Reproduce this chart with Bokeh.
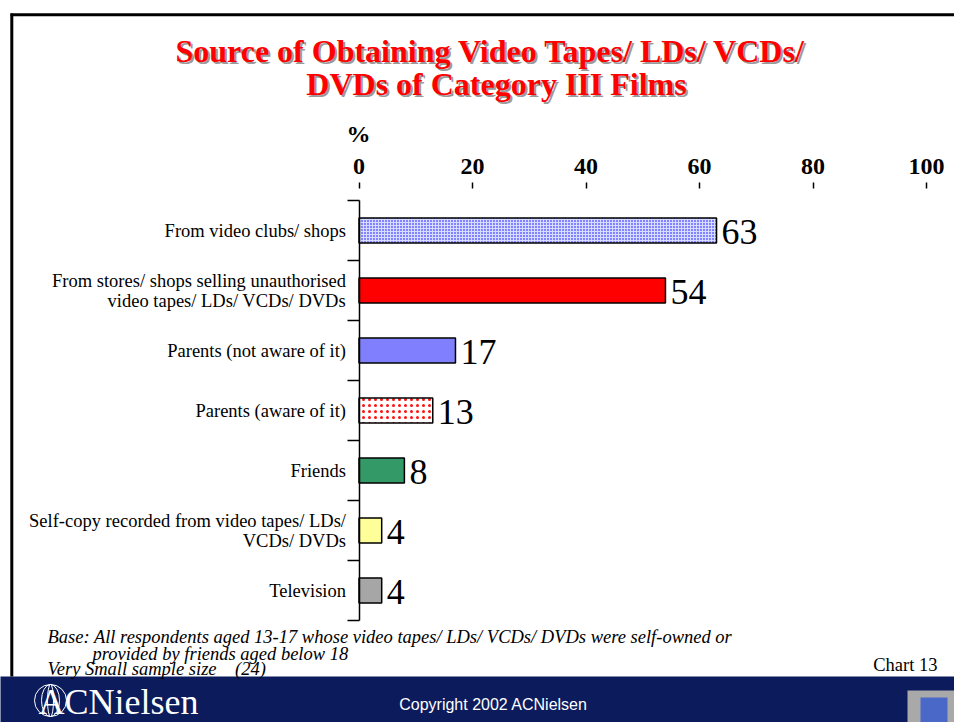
from bokeh.plotting import figure
from bokeh.models import Range1d, LinearAxis, FixedTicker, ColumnDataSource
from bokeh.core.properties import value
from bokeh.embed import file_html
from bokeh.resources import INLINE

# ---------------- data ----------------
categories = [
    "From video clubs/ shops",
    "From stores/ shops selling unauthorised\nvideo tapes/ LDs/ VCDs/ DVDs",
    "Parents (not aware of it)",
    "Parents (aware of it)",
    "Friends",
    "Self-copy recorded from video tapes/ LDs/\nVCDs/ DVDs",
    "Television",
]
values = [63, 54, 17, 13, 8, 4, 4]
x_ticks = [0, 20, 40, 60, 80, 100]

title_lines = ["Source of Obtaining Video Tapes/ LDs/ VCDs/", "DVDs of Category III Films"]
foot_lines = [
    "Base: All respondents aged 13-17 whose video tapes/ LDs/ VCDs/ DVDs were self-owned or",
    "provided by friends aged below 18",
    "Very Small sample size\u00a0\u00a0\u00a0\u00a0(24)",
]

# ---------------- styles ----------------
bar_fill = ["#d8dcff", "#ff0000", "#8080ff", "#ffffff", "#339966", "#ffff99", "#a6a6a6"]
bar_hatch = [".", " ", " ", ".", " ", " ", " "]
hatch_col = ["#0000ff", "#000000", "#000000", "#ff1010", "#000000", "#000000", "#000000"]
hatch_sc = [3.0, 4.0, 4.0, 6.0, 4.0, 4.0, 4.0]
hatch_w = [2.0, 1.0, 1.0, 2.2, 1.0, 1.0, 1.0]

SERIF = "Liberation Serif"
SANS = "Liberation Sans"

W, H = 954, 722
PX = 5.675  # pixels per percent


def sx(X):
    return (X - 358.5) / PX


def sy(Y):
    return (Y - 230.0) / 60.0


p = figure(width=W, height=H, x_range=Range1d(sx(0), sx(W)), y_range=Range1d(sy(H), sy(0)),
           output_backend="svg", toolbar_location=None, min_border=0,
           x_axis_type=None, y_axis_type=None)
p.outline_line_color = None
p.background_fill_color = "white"
p.border_fill_color = "white"

# footer band
p.quad(left=[sx(-10)], right=[sx(970)], top=[sy(676)], bottom=[sy(740)], fill_color="#0b1b5c", line_color=None)

# slide border
p.segment(x0=[sx(10), sx(11.3)], y0=[sy(14.3), sy(13)], x1=[sx(970), sx(11.3)], y1=[sy(14.3), sy(676)],
          line_color="black", line_width=3)

# bars
idx = list(range(len(categories)))
src = ColumnDataSource(dict(y=idx, v=values, fill=bar_fill, hatch=bar_hatch, hc=hatch_col, hs=hatch_sc,
                            hw=hatch_w, lab=[str(v) for v in values]))
p.hbar(y="y", left=0, right="v", height=0.42, source=src, fill_color="fill", line_color="black",
       line_width=1.5, hatch_pattern="hatch", hatch_color="hc", hatch_scale="hs", hatch_weight="hw")
p.text(x="v", y="y", text="lab", source=src, x_offset=5, y_offset=1, text_baseline="middle",
       text_align="left", text_font=value(SERIF), text_font_size="36px", text_color="black")

# top value axis
xa = LinearAxis(ticker=FixedTicker(ticks=x_ticks), fixed_location=sy(188), bounds=(0, 100))
xa.axis_line_color = None
xa.major_tick_out = 6
xa.major_tick_in = 0
xa.major_tick_line_width = 1.5
xa.minor_tick_out = 0
xa.minor_tick_in = 0
xa.major_label_standoff = 9
xa.major_label_text_font = SERIF
xa.major_label_text_font_style = "bold"
xa.major_label_text_font_size = "24px"
xa.major_label_text_color = "black"
p.add_layout(xa, "above")

# left category axis: boundary ticks
ya = LinearAxis(ticker=FixedTicker(ticks=[i + 0.5 for i in range(-1, len(categories))]), fixed_location=0,
                bounds=(-0.5, len(categories) - 0.5))
ya.axis_line_width = 1.5
ya.axis_line_color = "black"
ya.major_tick_out = 12
ya.major_tick_in = 0
ya.major_tick_line_width = 1.5
ya.minor_tick_out = 0
ya.minor_tick_in = 0
ya.major_label_text_color = None
p.add_layout(ya, "left")

# left category axis: labels
yl = LinearAxis(ticker=FixedTicker(ticks=idx), fixed_location=0)
yl.axis_line_color = None
yl.major_tick_out = 0
yl.major_tick_in = 0
yl.minor_tick_out = 0
yl.minor_tick_in = 0
yl.major_label_standoff = 13
yl.major_label_overrides = {i: c for i, c in enumerate(categories)}
yl.major_label_text_font = SERIF
yl.major_label_text_font_size = "18.5px"
yl.major_label_text_line_height = 1.0
yl.major_label_text_color = "black"
p.add_layout(yl, "left")

# "%" axis unit
p.text(x=[sx(358)], y=[sy(133)], text=["%"], text_align="center", text_baseline="middle",
       text_font=value(SERIF), text_font_style="bold", text_font_size="24px", text_color="black")

# title with shadow
tx = [sx(490), sx(496)]
ty = [sy(50), sy(83)]
p.text(x=[v + 2 / PX for v in tx], y=[v + 2 / 60 for v in ty], text=title_lines, text_align="center",
       text_baseline="middle", text_font=value(SERIF), text_font_style="bold", text_font_size="32px",
       text_color="#9a9a9a")
p.text(x=tx, y=ty, text=title_lines, text_align="center", text_baseline="middle", text_font=value(SERIF),
       text_font_style="bold", text_font_size="32px", text_color="#ff0000")

# footnotes
p.text(x=[sx(47), sx(92), sx(47)], y=[sy(636), sy(653), sy(668)], text=foot_lines, text_align="left",
       text_baseline="middle", text_font=value(SERIF), text_font_style="italic", text_font_size="18.5px",
       text_color="black")
p.text(x=[sx(937)], y=[sy(664)], text=["Chart 13"], text_align="right", text_baseline="middle",
       text_font=value(SERIF), text_font_size="18.5px", text_color="black")

# footer contents
p.text(x=[sx(493)], y=[sy(704)], text=["Copyright 2002 ACNielsen"], text_align="center",
       text_baseline="middle", text_font=value(SANS), text_font_size="16px", text_color="white")
p.text(x=[sx(38)], y=[sy(701)], text=["ACNielsen"], text_align="left", text_baseline="middle",
       text_font=value(SERIF), text_font_size="36px", text_color="white")
p.ellipse(x=[sx(50), sx(50), sx(50)], y=[sy(700), sy(700), sy(700)],
          width=[32 / PX, 18 / PX, 6 / PX], height=[32 / 60, 32 / 60, 32 / 60],
          fill_color=None, line_color="white", line_width=1.0)
# corner logo
p.quad(left=[sx(907)], right=[sx(970)], top=[sy(690)], bottom=[sy(740)], fill_color="#a9a9a9", line_color=None)
p.quad(left=[sx(920)], right=[sx(947)], top=[sy(697)], bottom=[sy(740)], fill_color="#4a68c8", line_color=None)

open("out.html", "w").write(file_html(p, INLINE))
